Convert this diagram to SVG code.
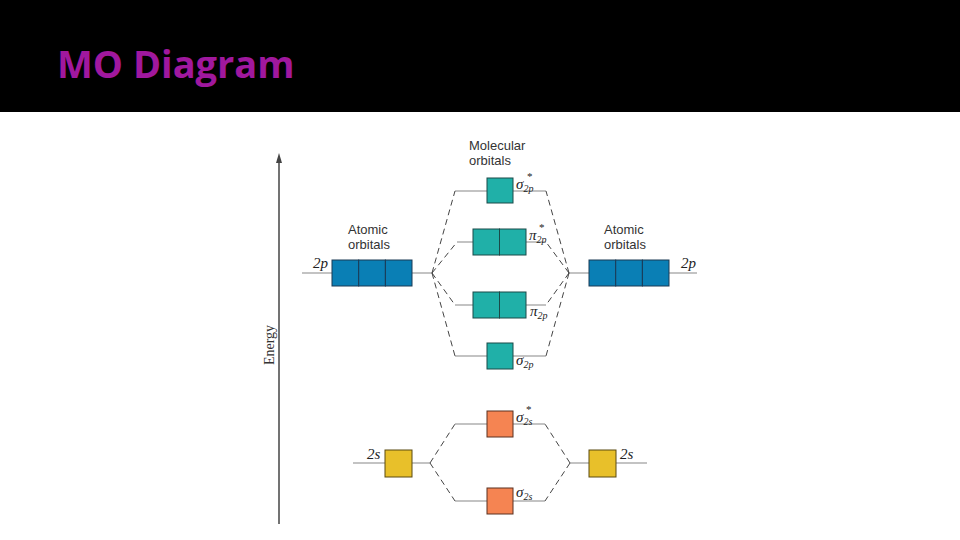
<svg xmlns="http://www.w3.org/2000/svg" width="960" height="540" viewBox="0 0 960 540">
<style>
.lbl{font-family:"Liberation Sans",Arial,sans-serif;font-size:13px;fill:#333}
.m{font-family:"Liberation Serif",serif;font-style:italic;font-size:15px;fill:#222}
.s{font-size:10px}
.st{font-family:"Liberation Serif",serif;font-size:11px;fill:#222}
.b{fill:#0a7fb5;stroke:#1a3a55;stroke-width:1}
.t{fill:#20b0a8;stroke:#1a4a48;stroke-width:1}
.o{fill:#f58452;stroke:#5a3020;stroke-width:1}
.y{fill:#e8c02a;stroke:#5a4a10;stroke-width:1}
.lv{stroke:#888;stroke-width:1.2;fill:none}
.d{stroke:#444;stroke-width:1;stroke-dasharray:6,4;fill:none}
</style>
<rect width="960" height="540" fill="#fff"/>
<rect width="960" height="112" fill="#000"/>
<text x="57" y="78" font-family="Open Sans,Liberation Sans,sans-serif" font-weight="bold" font-size="38" fill="#a0189e">MO Diagram</text>
<g id="axis">
<line x1="279" y1="160" x2="279" y2="524" stroke="#444" stroke-width="1.5"/>
<polygon points="279,153 276,163 282,163" fill="#444"/>
<text x="0" y="0" transform="translate(274,345) rotate(-90)" text-anchor="middle" font-family="Liberation Serif,serif" font-size="14" fill="#333">Energy</text>
</g>
<g id="connectors">
<line class="lv" x1="302" y1="273" x2="432" y2="273"/>
<line class="lv" x1="569" y1="273" x2="697" y2="273"/>
<line class="lv" x1="455" y1="191" x2="546" y2="191"/>
<line class="lv" x1="457" y1="242" x2="546" y2="242"/>
<line class="lv" x1="455" y1="305" x2="546" y2="305"/>
<line class="lv" x1="455" y1="356" x2="546" y2="356"/>
<line class="lv" x1="353" y1="463" x2="430" y2="463"/>
<line class="lv" x1="570" y1="463" x2="647" y2="463"/>
<line class="lv" x1="455" y1="424" x2="545" y2="424"/>
<line class="lv" x1="455" y1="501" x2="545" y2="501"/>
<path class="d" d="M432,273 L455,191 M432,273 L457,242 M432,273 L455,305 M432,273 L455,356"/>
<path class="d" d="M569,273 L546,191 M569,273 L546,242 M569,273 L546,305 M569,273 L546,356"/>
<path class="d" d="M430,463 L455,424 M430,463 L455,501 M570,463 L545,424 M570,463 L545,501"/>
</g>
<g id="left2p"><rect class="b" x="332" y="260" width="26.7" height="26"/><rect class="b" x="358.7" y="260" width="26.7" height="26"/><rect class="b" x="385.4" y="260" width="26.6" height="26"/>
<text class="m" x="313" y="268">2p</text></g>
<g id="right2p"><rect class="b" x="589" y="260" width="26.7" height="26"/><rect class="b" x="615.7" y="260" width="26.7" height="26"/><rect class="b" x="642.4" y="260" width="26.6" height="26"/>
<text class="m" x="681" y="268">2p</text></g>
<g id="sigmastar2p"><rect class="t" x="487" y="178" width="26" height="25"/><text class="m" x="516" y="189">σ<tspan class="s" dy="3">2p</tspan></text><text class="st" x="527" y="180">*</text></g>
<g id="pistar2p"><rect class="t" x="473" y="229" width="26.5" height="26"/><rect class="t" x="499.5" y="229" width="26.5" height="26"/><text class="m" x="529" y="240">π<tspan class="s" dy="3">2p</tspan></text><text class="st" x="539" y="231">*</text></g>
<g id="pi2p"><rect class="t" x="473" y="292" width="26.5" height="26"/><rect class="t" x="499.5" y="292" width="26.5" height="26"/><text class="m" x="530" y="316">π<tspan class="s" dy="3">2p</tspan></text></g>
<g id="sigma2p"><rect class="t" x="487" y="343" width="26" height="26"/><text class="m" x="516" y="365">σ<tspan class="s" dy="3">2p</tspan></text></g>
<g id="sigmastar2s"><rect class="o" x="487" y="411" width="26" height="26"/><text class="m" x="516" y="422">σ<tspan class="s" dy="3">2s</tspan></text><text class="st" x="526" y="413">*</text></g>
<g id="sigma2s"><rect class="o" x="487" y="488" width="26" height="26"/><text class="m" x="516" y="497">σ<tspan class="s" dy="3">2s</tspan></text></g>
<g id="left2s"><rect class="y" x="385" y="450" width="27" height="27"/><text class="m" x="367" y="459">2s</text></g>
<g id="right2s"><rect class="y" x="589" y="450" width="27" height="27"/><text class="m" x="620" y="459">2s</text></g>
<g id="labels">
<text class="lbl" x="469" y="150">Molecular</text><text class="lbl" x="469" y="165">orbitals</text>
<text class="lbl" x="348" y="234">Atomic</text><text class="lbl" x="348" y="249">orbitals</text>
<text class="lbl" x="604" y="234">Atomic</text><text class="lbl" x="604" y="249">orbitals</text>
</g>
</svg>
